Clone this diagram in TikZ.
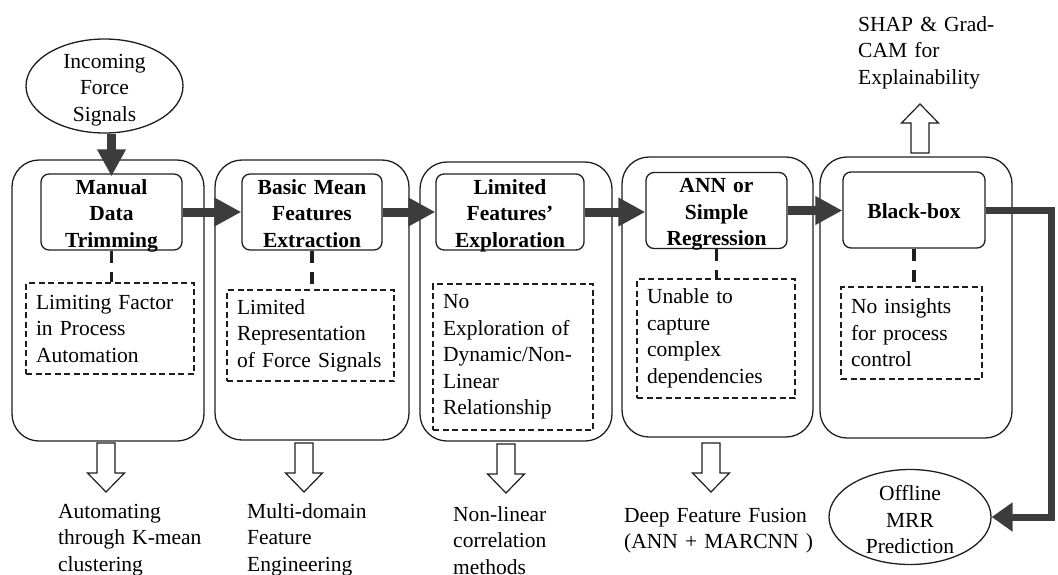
\documentclass[tikz,border=0pt]{standalone}
\usepackage{fontspec}
\setmainfont{Liberation Serif}
\usetikzlibrary{arrows.meta,shapes.geometric}
\definecolor{ink}{HTML}{1E1E1E}
\definecolor{flow}{HTML}{3C3C3C}
\begin{document}
\begin{tikzpicture}[x=1pt,y=-1pt,
  txt/.style={font=\fontsize{21.5}{26.5}\selectfont, text=black},
  panel/.style={draw=ink, line width=1.3pt, rounded corners=27pt, inner sep=0pt},
  stage/.style={txt, draw=ink, line width=1.3pt, rounded corners=8pt, inner sep=2pt,
    font=\fontsize{21.5}{26.5}\selectfont\bfseries, align=center,
    text height=18pt, text depth=54pt},
  issue/.style={txt, draw=ink, line width=1.2pt, dash pattern=on 6pt off 3.5pt,
    inner xsep=10pt, inner ysep=0pt, align=left},
  oval/.style={draw=ink, line width=1.3pt, ellipse, inner sep=0pt},
  note/.style={txt, inner sep=0pt, align=left, anchor=base west},
  bigarrow/.style={draw=flow, line width=9pt, -{Triangle[length=27pt,width=27pt]}},
  dashlink/.style={draw=ink, line width=3.5pt, dash pattern=on 12pt off 9pt},
  pics/blockdown/.style={code={
    \draw[draw=ink, line width=1.2pt, fill=white, line join=miter]
      (-9,0) -- (-9,30) -- (-18.5,30) -- (0,49) -- (18.5,30) -- (9,30) -- (9,0) -- cycle;}}
]
\useasboundingbox (0,0) rectangle (1058,574);

% outer stage panels
\node[panel, minimum width=192pt, minimum height=281pt] (P1) at (108,300.5) {};
\node[panel, minimum width=194pt, minimum height=280pt] (P2) at (312,300) {};
\node[panel, minimum width=192pt, minimum height=279pt] (P3) at (516,301.5) {};
\node[panel, minimum width=191pt, minimum height=280pt] (P4) at (717.5,297) {};
\node[panel, minimum width=192pt, minimum height=281pt] (P5) at (916,297.5) {};

% processing steps
\node[stage, text width=137pt, minimum height=76pt] (B1) at (111.5,212) {Manual\\Data\\Trimming};
\node[stage, text width=136pt, minimum height=76pt] (B2) at (312,212) {Basic Mean\\Features\\Extraction};
\node[stage, text width=144pt, minimum height=76pt] (B3) at (510,212) {Limited\\Features’\\Exploration};
\node[stage, text width=137pt, minimum height=75pt] (B4) at (716.5,210.5) {ANN or\\Simple\\Regression};
\node[stage, text width=138pt, minimum height=76pt, text height=17pt, text depth=1pt] (B5) at (914,210) {Black-box};

% limitations of each step
\node[issue, text width=148pt, minimum height=91pt] (D1) at (110,328.5) {Limiting Factor\\in Process\\Automation};
\node[issue, text width=147pt, minimum height=91pt] (D2) at (310.5,335.5) {Limited\\Representation\\of Force Signals};
\node[issue, text width=140pt, minimum height=146pt] (D3) at (513,357) {No\\Exploration of\\Dynamic/Non-\\Linear\\Relationship};
\node[issue, text width=138pt, minimum height=119pt] (D4) at (716,338.5) {Unable to\\capture\\complex\\dependencies};
\node[issue, text width=121pt, minimum height=92pt] (D5) at (911.5,333) {No insights\\for process\\control};

% input and output
\node[oval, minimum width=157pt, minimum height=94pt] (E1) at (104.5,86) {};
\node[txt, align=center, inner sep=0pt] (E1t) at ([yshift=-4pt]E1.center) {Incoming\\Force\\Signals};
\node[oval, minimum width=162pt, minimum height=95pt] (E2) at (910,517) {};
\node[txt, align=center, inner sep=0pt] (E2t) at ([yshift=-3pt]E2.center) {Offline\\MRR\\Prediction};

% main flow
\draw[bigarrow] (B1.north |- E1.south) -- ([yshift=-3pt]B1.north);
\draw[bigarrow] (B1.east) -- (B2.west);
\draw[bigarrow] (B2.east) -- (B3.west);
\draw[bigarrow] (B3.east) -- (B3.east -| B4.west);
\draw[bigarrow] (B4.east) -- (B4.east -| B5.west);
\coordinate (turn) at (1051,210);
\draw[draw=flow, line width=7pt, line join=miter, -{Triangle[length=21pt,width=28pt]}]
  (B5.east) -- (turn) |- (E2.east);

% links from steps to their limitations
\draw[dashlink] (B1.south) -- (B1.south |- D1.north);
\draw[dashlink] (B2.south) -- (B2.south |- D2.north);
\draw[dashlink] (B4.south) -- (B4.south |- D4.north);
\draw[dashlink] (B5.south) -- (B5.south |- D5.north);

% proposed improvements
\pic at (106,443) {blockdown};
\pic at (304,443) {blockdown};
\pic at (506,444) {blockdown};
\pic at (711,443) {blockdown};
\pic[yscale=-1] at (920,153) {blockdown};

\node[note, text width=170pt] (T1) at (58,518) {Automating\\through K-mean\\clustering};
\node[note, text width=160pt] (T2) at (247,518) {Multi-domain\\Feature\\Engineering};
\node[note, text width=150pt] (T3) at (453,521) {Non-linear\\correlation\\methods};
\node[note, text width=210pt] (T4) at (624,522) {Deep Feature Fusion\\(ANN + MARCNN )};
\node[note, text width=160pt] (T5) at (858,31) {SHAP \& Grad-\\CAM for\\Explainability};
\end{tikzpicture}
\end{document}
